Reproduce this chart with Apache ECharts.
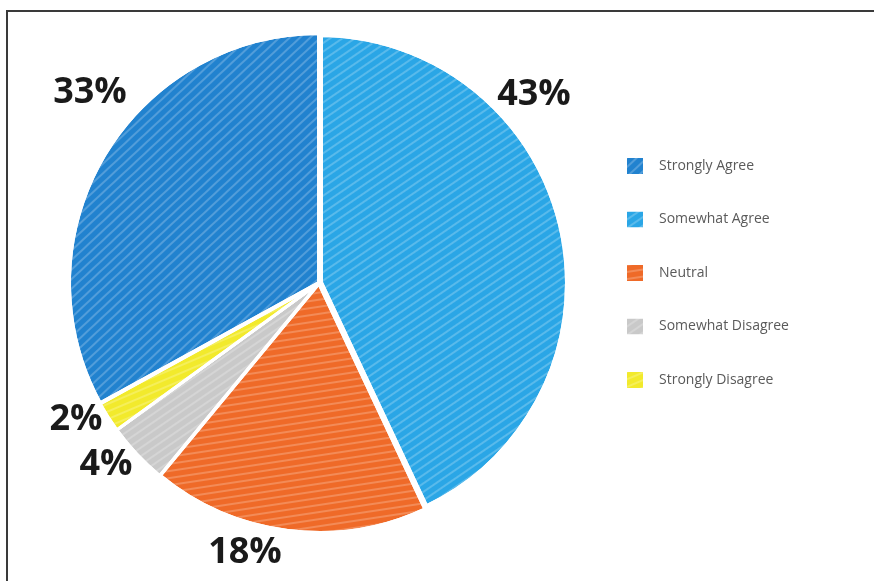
<!DOCTYPE html>
<html><head><meta charset="utf-8">
<script src="https://cdn.jsdelivr.net/npm/echarts@6/dist/echarts.min.js"></script>
<style>html,body{margin:0;padding:0;background:#fff}#c{width:874px;height:581px}</style>
</head><body><div id="c"></div>
<script>
// Data (pie order, clockwise from 12 o'clock)
const categories = ['Somewhat Agree', 'Neutral', 'Somewhat Disagree', 'Strongly Disagree', 'Strongly Agree'];
const values = [43, 18, 4, 2, 33];
const legendOrder = ['Strongly Agree', 'Somewhat Agree', 'Neutral', 'Somewhat Disagree', 'Strongly Disagree'];

const colors = {
  'Strongly Agree': '#2182cf',
  'Somewhat Agree': '#2aa6e6',
  'Neutral': '#ef6a28',
  'Somewhat Disagree': '#c9c9c9',
  'Strongly Disagree': '#f2ea2c'
};
const stripeRot = {
  'Strongly Agree': -0.75,
  'Somewhat Agree': -0.6,
  'Neutral': -0.15,
  'Somewhat Disagree': -0.6,
  'Strongly Disagree': -0.4
};
const borderW = {
  'Strongly Agree': 4,
  'Somewhat Agree': 8,
  'Neutral': 4,
  'Somewhat Disagree': 3,
  'Strongly Disagree': 3
};
// label anchor positions (px) per category
const labelPos = {
  'Strongly Agree': [90, 93],
  'Somewhat Agree': [534, 95],
  'Neutral': [245, 553],
  'Somewhat Disagree': [106, 465],
  'Strongly Disagree': [76, 420]
};

const chart = echarts.init(document.getElementById('c'));
chart.setOption({
  backgroundColor: '#fff',
  animation: false,
  graphic: [{
    type: 'rect', shape: {x: 7, y: 11, width: 880, height: 590},
    style: {fill: 'none', stroke: '#3a3a3a', lineWidth: 2}, z: 100
  }],
  legend: {
    orient: 'vertical',
    left: 620, top: 151,
    itemWidth: 18, itemHeight: 18, itemGap: 33.5,
    icon: 'rect',
    data: legendOrder,
    textStyle: {fontFamily: 'Open Sans', fontSize: 14, color: '#5a5a5a', padding: [0, 0, 0, 10]}
  },
  series: [{
    type: 'pie',
    center: [319, 283],
    radius: [0, 250],
    startAngle: 90,
    clockwise: true,
    avoidLabelOverlap: false,
    selectedMode: false,
    label: {
      show: true, position: 'outside',
      formatter: p => p.value + '%',
      fontFamily: 'Open Sans', fontWeight: 'bold', fontSize: 36, color: '#1a1a1a'
    },
    labelLine: {show: false},
    labelLayout: p => {
      const pos = labelPos[categories[p.dataIndex]];
      return {x: pos[0], y: pos[1], align: 'center', verticalAlign: 'middle'};
    },
    emphasis: {disabled: true},
    data: categories.map((c, i) => ({
      name: c, value: values[i],
      itemStyle: {
        color: colors[c],
        borderColor: '#fff', borderWidth: borderW[c],
        decal: {
          symbol: 'rect', symbolSize: 1,
          dashArrayX: [[1, 0]], dashArrayY: [2, 5],
          rotation: stripeRot[c],
          color: 'rgba(255,255,255,0.22)'
        }
      }
    }))
  }]
});
</script></body></html>
